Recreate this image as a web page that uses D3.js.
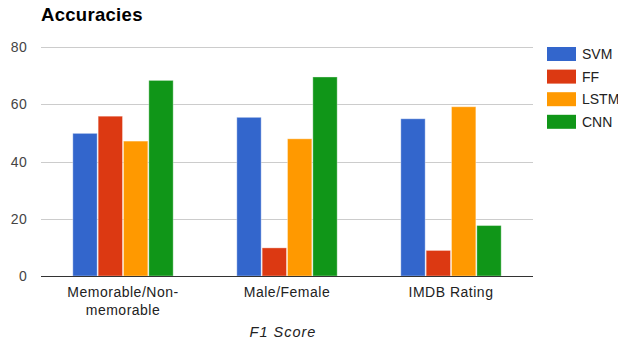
<!DOCTYPE html>
<html>
<head>
<meta charset="utf-8">
<script src="https://cdn.jsdelivr.net/npm/d3@7"></script>
<style>
  body { margin: 0; background: #fff; }
  text { font-family: "Liberation Sans", Arial, sans-serif; }
</style>
</head>
<body>
<svg id="chart"></svg>
<script>
const categories = ["Memorable/Non-memorable", "Male/Female", "IMDB Rating"];
const categoryLines = [["Memorable/Non-", "memorable"], ["Male/Female"], ["IMDB Rating"]];
const seriesNames = ["SVM", "FF", "LSTM", "CNN"];
const svmValues = [50, 55.6, 55.1];
const ffValues = [56, 10, 9.1];
const lstmValues = [47.3, 48.1, 59.3];
const cnnValues = [68.5, 69.7, 17.8];
const yTicks = [0, 20, 40, 60, 80];
const colors = ["#3366cc", "#dc3912", "#ff9900", "#109618"];

const series = [svmValues, ffValues, lstmValues, cnnValues];

const W = 618, H = 345;
const margin = { top: 47, right: 85, bottom: 69, left: 41 };

const svg = d3.select("#chart")
  .attr("width", W)
  .attr("height", H);

const x0 = d3.scaleBand()
  .domain(categories)
  .range([margin.left, W - margin.right])
  .paddingInner(0.382)
  .paddingOuter(0.191);

const x1 = d3.scaleBand()
  .domain(seriesNames)
  .range([0, x0.bandwidth()]);

const y = d3.scaleLinear()
  .domain([0, 80])
  .range([H - margin.bottom, margin.top]);

const color = d3.scaleOrdinal().domain(seriesNames).range(colors);

// title
svg.append("text")
  .attr("x", 41)
  .attr("y", 21)
  .style("font-size", "18.5px")
  .style("font-weight", "bold")
  .style("letter-spacing", "0.3px")
  .attr("fill", "#000")
  .text("Accuracies");

// gridlines
svg.append("g")
  .selectAll("line")
  .data(yTicks.filter(d => d !== 0))
  .join("line")
  .attr("x1", margin.left)
  .attr("x2", W - margin.right)
  .attr("y1", d => Math.round(y(d)) + 0.5)
  .attr("y2", d => Math.round(y(d)) + 0.5)
  .attr("stroke", "#cccccc");

// y tick labels
svg.append("g")
  .selectAll("text")
  .data(yTicks)
  .join("text")
  .attr("x", 27)
  .attr("y", d => y(d) + 5)
  .attr("text-anchor", "end")
  .style("font-size", "14px")
  .style("letter-spacing", "0.3px")
  .attr("fill", "#444")
  .text(d => d);

// bars
const groups = svg.append("g")
  .selectAll("g")
  .data(categories)
  .join("g")
  .attr("transform", d => `translate(${x0(d)},0)`);

groups.selectAll("rect")
  .data((d, i) => seriesNames.map((s, j) => ({ s, v: series[j][i] })))
  .join("rect")
  .attr("x", d => x1(d.s) + 0.5)
  .attr("y", d => y(d.v) + 0.5)
  .attr("width", x1.bandwidth() - 1)
  .attr("height", d => y(0) - y(d.v) - 0.5)
  .attr("fill", d => color(d.s))
  .attr("stroke", "#fff")
  .attr("stroke-opacity", 0.35);

// baseline
svg.append("line")
  .attr("x1", margin.left)
  .attr("x2", W - margin.right)
  .attr("y1", Math.round(y(0)) + 0.5)
  .attr("y2", Math.round(y(0)) + 0.5)
  .attr("stroke", "#333");

// category labels
const catLabels = svg.append("g")
  .selectAll("text")
  .data(categories)
  .join("text")
  .attr("text-anchor", "middle")
  .style("font-size", "14px")
  .style("letter-spacing", "0.5px")
  .attr("fill", "#222");

catLabels.selectAll("tspan")
  .data((d, i) => categoryLines[i])
  .join("tspan")
  .attr("x", function () { return x0(d3.select(this.parentNode).datum()) + x0.bandwidth() / 2; })
  .attr("y", (d, i) => 297 + i * 18)
  .text(d => d);

// axis title
svg.append("text")
  .attr("x", (margin.left + W - margin.right) / 2 - 4)
  .attr("y", 337)
  .attr("text-anchor", "middle")
  .style("font-size", "14.5px")
  .style("font-style", "italic")
  .style("letter-spacing", "1px")
  .attr("fill", "#222")
  .text("F1 Score");

// legend
const legend = svg.append("g")
  .selectAll("g")
  .data(seriesNames)
  .join("g")
  .attr("transform", (d, i) => `translate(547,${47 + i * 22.6})`);

legend.append("rect")
  .attr("width", 29)
  .attr("height", 14)
  .attr("fill", d => color(d));

legend.append("text")
  .attr("x", 35)
  .attr("y", 12)
  .style("font-size", "14px")
  .attr("fill", "#222")
  .text(d => d);
</script>
</body>
</html>
